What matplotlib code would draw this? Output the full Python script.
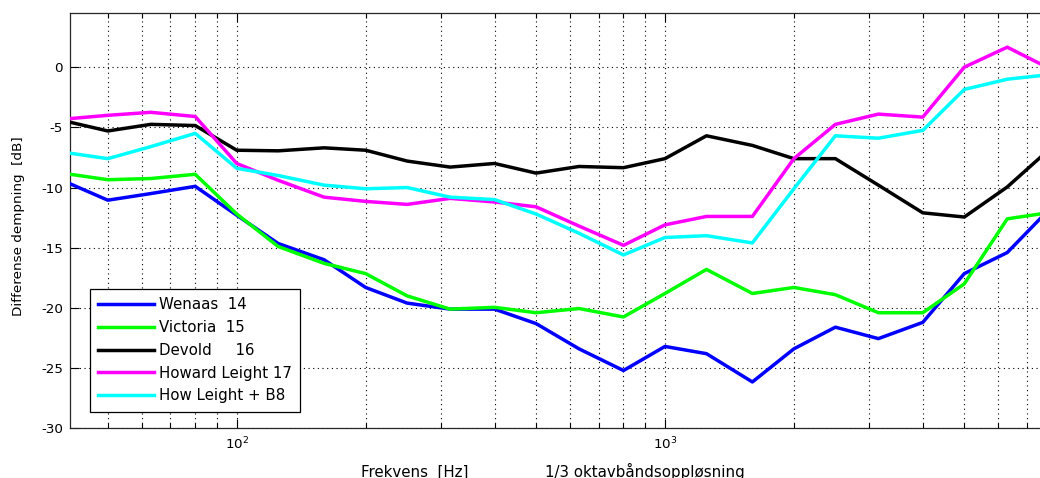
"""Differense demping per 1/3-oktavbånd for fem hørselvern, MATLAB-lignende stil."""
import matplotlib
matplotlib.use("Agg")
import matplotlib.pyplot as plt
from matplotlib.ticker import LogLocator, FixedLocator, NullFormatter

FREQS = [40, 50, 63, 80, 100, 125, 160, 200, 250, 315, 400, 500, 630, 800,
         1000, 1250, 1600, 2000, 2500, 3150, 4000, 5000, 6300, 8000]
WENAAS = [-9.55, -11.05, -10.5, -9.9, -12.3, -14.65, -16.0, -18.3, -19.6, -20.1, -20.1, -21.3,
          -23.4, -25.2, -23.2, -23.8, -26.15, -23.4, -21.6, -22.55, -21.2, -17.15, -15.4, -11.6]
VICTORIA = [-8.85, -9.35, -9.25, -8.9, -12.2, -14.9, -16.3, -17.15, -19.0, -20.1, -19.95, -20.4,
            -20.05, -20.75, -18.8, -16.8, -18.8, -18.3, -18.9, -20.4, -20.4, -18.0, -12.6, -12.05]
DEVOLD = [-4.5, -5.3, -4.75, -4.85, -6.9, -6.95, -6.7, -6.9, -7.8, -8.3, -8.0, -8.8,
          -8.25, -8.35, -7.6, -5.7, -6.5, -7.6, -7.6, -9.8, -12.1, -12.45, -9.95, -6.65]
HOWARD = [-4.3, -4.0, -3.75, -4.1, -8.0, -9.4, -10.8, -11.15, -11.4, -10.9, -11.2, -11.6,
          -13.2, -14.8, -13.1, -12.4, -12.4, -7.6, -4.75, -3.9, -4.15, 0.0, 1.66, -0.2]
HOW_B8 = [-7.1, -7.6, -6.6, -5.5, -8.4, -9.0, -9.8, -10.1, -10.0, -10.8, -11.0, -12.2,
          -13.8, -15.6, -14.15, -14.0, -14.6, -10.1, -5.7, -5.9, -5.25, -1.85, -1.0, -0.6]
LABELS = ["Wenaas  14", "Victoria  15", "Devold     16", "Howard Leight 17", "How Leight + B8"]
COLORS = ["#0000ff", "#00ff00", "#000000", "#ff00ff", "#00ffff"]
YTICKS = [0, -5, -10, -15, -20, -25, -30]

plt.rcParams.update({"font.family": "DejaVu Sans", "font.size": 10.8,
                     "axes.unicode_minus": False})

fig = plt.figure(figsize=(10.4, 4.78), dpi=100)
# axes runs past the right edge of the image, like the cropped original
ax = fig.add_axes((70 / 1040, 49.7 / 478, 981.7 / 1040, 415.3 / 478))

for series, lab, col in zip([WENAAS, VICTORIA, DEVOLD, HOWARD, HOW_B8], LABELS, COLORS):
    ax.plot(FREQS, series, color=col, lw=2.5, label=lab, zorder=3)

ax.set_xscale("log")
ax.set_xlim(40.8, 8000)
ax.set_ylim(-30, 4.5)
ax.yaxis.set_major_locator(FixedLocator(YTICKS))
ax.xaxis.set_major_locator(LogLocator(base=10, numticks=10))
ax.xaxis.set_minor_locator(LogLocator(base=10, subs=range(2, 10), numticks=30))
ax.xaxis.set_minor_formatter(NullFormatter())

grid_kw = dict(color="k", lw=0.8, ls=(0, (1, 3.2)))
ax.grid(True, which="major", axis="both", **grid_kw)
ax.grid(True, which="minor", axis="x", **grid_kw)
ax.set_axisbelow(True)

ax.tick_params(which="both", direction="in", top=True, right=True, colors="k",
               labelsize=9.7, pad=5)
ax.tick_params(which="major", length=6.5, width=0.8)
ax.tick_params(which="minor", length=3.6, width=0.8)
for s in ax.spines.values():
    s.set_linewidth(0.9)
    s.set_color("0.15")

ax.set_ylabel("Differense dempning  [dB]", fontsize=9.7)
ax.yaxis.set_label_coords(-0.046, 0.486)

fig.text(361 / 1040, 1.5 / 478, "Frekvens  [Hz]", ha="left", va="baseline", fontsize=10.8)
fig.text(545 / 1040, 1.5 / 478, "1/3 oktavbåndsoppløsning", ha="left", va="baseline",
         fontsize=10.8)

leg = ax.legend(loc="lower left", bbox_to_anchor=(0.0204, 0.040), fontsize=10.8,
                handlelength=3.7, handletextpad=0.35, labelspacing=0.52, borderpad=0.55,
                borderaxespad=0, frameon=True, fancybox=False)
leg.get_frame().set_edgecolor("k")
leg.get_frame().set_linewidth(0.9)
leg.get_frame().set_alpha(1)

fig.savefig("out.png", dpi=100)
